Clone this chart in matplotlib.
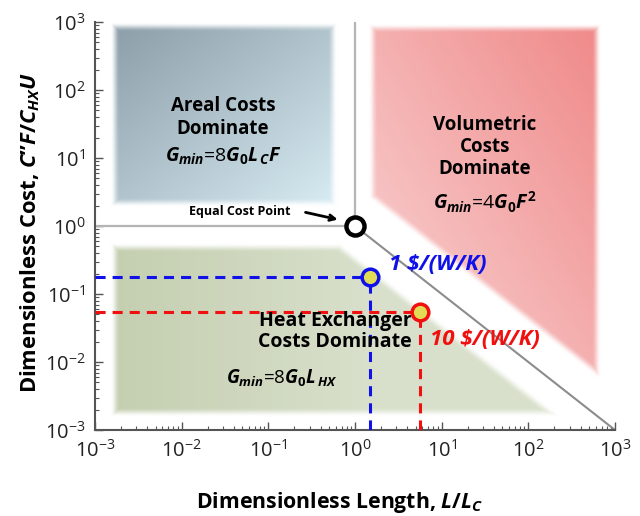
import numpy as np
import matplotlib.pyplot as plt

plt.rcParams['font.family'] = ['Open Sans', 'DejaVu Sans']
plt.rcParams['mathtext.fontset'] = 'custom'
plt.rcParams['mathtext.rm'] = 'Open Sans:bold'
plt.rcParams['mathtext.it'] = 'Open Sans:italic:bold'
plt.rcParams['mathtext.bf'] = 'Open Sans:bold'

# operating points
point_labels = ['1 $/(W/K)', '10 $/(W/K)']
point_x = [1.5, 5.6]
point_y = [0.18, 0.055]
point_colors = ['#1010e8', '#f01010']

# equal cost point
equal_x = 1.0
equal_y = 1.0

# shaded regions, in decades: [x0, x1, y0, y1]
areal_box = [-2.77, -0.26, 0.35, 2.93]
volumetric_box = [0.21, 2.79, -2.16, 2.91]
volumetric_cut = 0.65     # keep log x + log y >= cut
hx_box = [-2.77, 3.0, -2.74, -0.32]
hx_cut = -0.5             # keep log x + log y <= cut

fig = plt.figure(figsize=(6.4, 5.16), dpi=100)
rect = [95 / 640, 1 - 430 / 516, 520 / 640, 408 / 516]

# ---- soft coloured background, drawn on a linear axes in decades ----
ax_bg = fig.add_axes(rect, zorder=0)
ax_bg.set_axis_off()

n = 700
u, v = np.meshgrid(np.linspace(-3, 3, n), np.linspace(-3, 3, n))
px, py = 86.7, 68.0  # pixels per decade
blur = 9.0


def soft(d):
    t = np.clip(0.5 + d / blur, 0, 1)
    return t * t * (3 - 2 * t)


def box_dist(b):
    x0, x1, y0, y1 = b
    return np.minimum.reduce([(u - x0) * px, (x1 - u) * px, (v - y0) * py, (y1 - v) * py])


diag_norm = np.sqrt((1 / px) ** 2 + (1 / py) ** 2)
img = np.ones((n, n, 3))


def blend(img, alpha, col):
    return img * (1 - alpha[..., None]) + col * alpha[..., None]


# areal region: dark slate top-left -> pale blue bottom-right
x0, x1, y0, y1 = areal_box
t = np.clip(((u - x0) / (x1 - x0) + (y1 - v) / (y1 - y0)) / 2, 0, 1)[..., None]
col = np.array([0.55, 0.62, 0.66]) * (1 - t) + np.array([0.84, 0.92, 0.95]) * t
img = blend(img, soft(box_dist(areal_box)), col)

# volumetric region: pale pink bottom-left -> salmon top-right
x0, x1, y0, y1 = volumetric_box
d = np.minimum(box_dist(volumetric_box), ((u + v) - volumetric_cut) / diag_norm)
t = np.clip(((u - x0) / (x1 - x0) + (v - y0) / (y1 - y0)) / 2, 0, 1)[..., None]
col = np.array([0.98, 0.84, 0.84]) * (1 - t) + np.array([0.94, 0.54, 0.54]) * t
img = blend(img, soft(d), col)

# heat exchanger region: olive green, lighter to the right
x0, x1, y0, y1 = hx_box
d = np.minimum(box_dist(hx_box), (hx_cut - (u + v)) / diag_norm)
t = np.clip((u - x0) / 3.0, 0, 1)[..., None]
col = np.array([0.77, 0.81, 0.69]) * (1 - t) + np.array([0.85, 0.88, 0.80]) * t
img = blend(img, soft(d), col)

ax_bg.imshow(img, origin='lower', extent=(-3, 3, -3, 3), aspect='auto', interpolation='bilinear')
ax_bg.set_xlim(-3, 3)
ax_bg.set_ylim(-3, 3)

# ---- main log-log axes ----
ax = fig.add_axes(rect, zorder=1)
ax.patch.set_alpha(0)
ax.set_xscale('log')
ax.set_yscale('log')
ax.set_xlim(1e-3, 1e3)
ax.set_ylim(1e-3, 1e3)

# boundaries between regimes
ax.plot([1e-3, equal_x], [equal_y, equal_y], color='#b4b4b4', lw=1.6, zorder=2)
ax.plot([equal_x, equal_x], [equal_y, 1e3], color='#b4b4b4', lw=1.6, zorder=2)
ax.plot([equal_x, 1e3], [equal_y, 1e-3], color='#8c8c8c', lw=1.5, zorder=2)

# dashed guide lines and points
for x, y, c in zip(point_x, point_y, point_colors):
    ax.plot([1e-3, x], [y, y], color=c, lw=2.2, dashes=(3.3, 2.3), zorder=3)
    ax.plot([x, x], [1e-3, y], color=c, lw=2.2, dashes=(3.3, 2.3), zorder=3)
    ax.plot(x, y, 'o', ms=12, mfc='#e2dc55', mec=c, mew=2.5, zorder=5)

ax.text(2.45, 0.267, point_labels[0], color=point_colors[0], fontsize=16,
        fontweight='bold', style='italic', ha='left', va='center')
ax.text(7.4, 0.0211, point_labels[1], color=point_colors[1], fontsize=16,
        fontweight='bold', style='italic', ha='left', va='center')

ax.plot(equal_x, equal_y, 'o', ms=13, mfc='white', mec='black', mew=3.2, zorder=6)
ax.annotate('', xy=(0.68, 1.22), xytext=(0.25, 1.62),
            arrowprops=dict(arrowstyle='->', lw=2, color='black'))
ax.text(0.0465, 1.61, 'Equal Cost Point', fontsize=9, fontweight='bold',
        ha='center', va='center')

# region labels
ax.text(0.030, 39.4, 'Areal Costs\nDominate', fontsize=13.5, fontweight='bold',
        ha='center', va='center', linespacing=1.15)
ax.text(0.030, 10.4, r'$G_{min}$=8$G_0L_{\,C}F$', fontsize=14, ha='center', va='center')

ax.text(31.5, 14.5, 'Volumetric\nCosts\nDominate', fontsize=13.5, fontweight='bold',
        ha='center', va='center', linespacing=1.15)
ax.text(31.5, 2.25, r'$G_{min}$=4$G_0F^2$', fontsize=14, ha='center', va='center')

ax.text(0.586, 0.0281, 'Heat Exchanger\nCosts Dominate', fontsize=14, fontweight='bold',
        ha='center', va='center', linespacing=1.1)
ax.text(0.1436, 0.00582, r'$G_{min}$=8$G_0L_{\,HX}$', fontsize=13.5, ha='center', va='center')

# axes styling
for side in ['top', 'right']:
    ax.spines[side].set_visible(False)
for side in ['left', 'bottom']:
    ax.spines[side].set_color('#555555')
    ax.spines[side].set_linewidth(1.5)
ax.tick_params(which='both', direction='in', color='#555555')
ax.tick_params(which='major', length=6, width=1, labelsize=14.5, pad=7, labelcolor='#222222')
ax.tick_params(which='minor', length=3, width=0.8)

ax.set_xlabel(r'Dimensionless Length, $L/L_C$', fontsize=15.3, fontweight='bold')
ax.set_ylabel('Dimensionless Cost, $C\u201dF/C_{HX}U$', fontsize=15.8, fontweight='bold')
ax.xaxis.set_label_coords(0.471, -0.148)
ax.yaxis.set_label_coords(-0.102, 0.485)

fig.savefig('out.png', dpi=100)
